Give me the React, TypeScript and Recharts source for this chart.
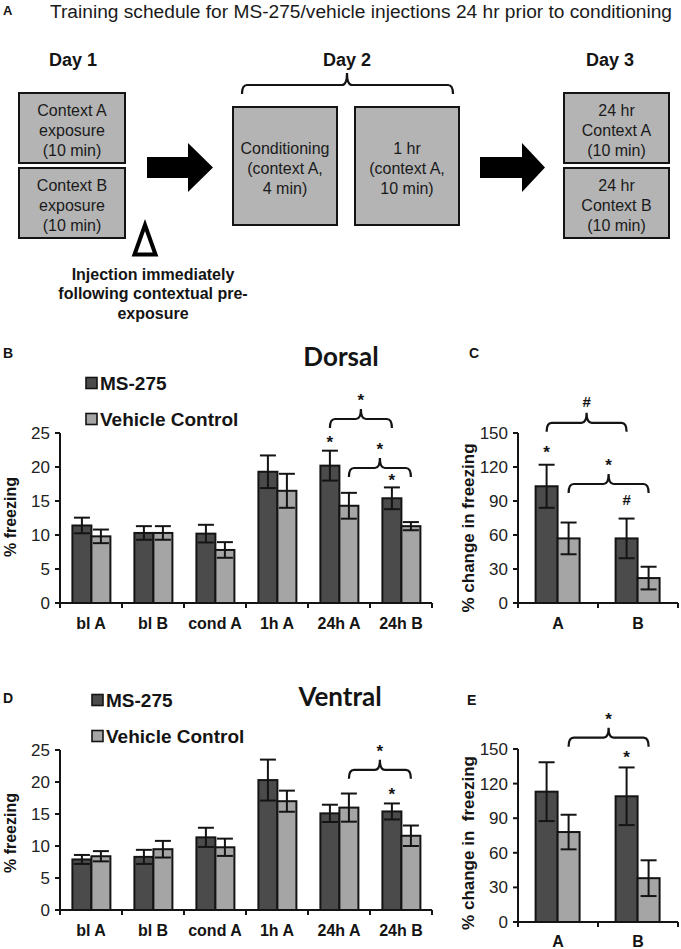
import React from 'react';
import { BarChart, Bar, XAxis, YAxis, ErrorBar } from 'recharts';

// --- data ---
const categories = ['bl A', 'bl B', 'cond A', '1h A', '24h A', '24h B'];
const contexts = ['A', 'B'];

// B: Dorsal, % freezing
const dorsalMs = [11.4, 10.3, 10.2, 19.3, 20.2, 15.4];
const dorsalMsErr = [1.15, 1.0, 1.3, 2.4, 2.2, 1.6];
const dorsalVeh = [9.8, 10.3, 7.8, 16.5, 14.3, 11.3];
const dorsalVehErr = [1.0, 1.0, 1.15, 2.5, 1.9, 0.6];

// C: Dorsal, % change in freezing
const dorsalChangeMs = [103, 57];
const dorsalChangeMsErr = [19, 17.5];
const dorsalChangeVeh = [57, 22];
const dorsalChangeVehErr = [14, 10];

// D: Ventral, % freezing
const ventralMs = [7.9, 8.3, 11.35, 20.3, 15.1, 15.4];
const ventralMsErr = [0.7, 1.1, 1.5, 3.2, 1.35, 1.25];
const ventralVeh = [8.4, 9.5, 9.8, 17.0, 16.0, 11.6];
const ventralVehErr = [0.8, 1.3, 1.35, 1.65, 2.2, 1.6];

// E: Ventral, % change in freezing
const ventralChangeMs = [113, 109];
const ventralChangeMsErr = [25.5, 25];
const ventralChangeVeh = [78, 38];
const ventralChangeVehErr = [15, 15.5];

const freezingTicks = [0, 5, 10, 15, 20, 25];
const changeTicks = [0, 30, 60, 90, 120, 150];

type Series = 'ms' | 'veh';
interface Mark { series: Series; index: number; at: number; text: string }
interface Brace { series: Series; from: number; to: number; at: number; text: string }

const dorsalMarks: Mark[] = [
  { series: 'ms', index: 4, at: 24.0, text: '*' },
  { series: 'ms', index: 5, at: 18.4, text: '*' },
];
const dorsalBraces: Brace[] = [
  { series: 'ms', from: 4, to: 5, at: 27.06, text: '*' },
  { series: 'veh', from: 4, to: 5, at: 19.85, text: '*' },
];
const dorsalChangeMarks: Mark[] = [
  { series: 'ms', index: 0, at: 135, text: '*' },
  { series: 'ms', index: 1, at: 91, text: '#' },
];
const dorsalChangeBraces: Brace[] = [
  { series: 'ms', from: 0, to: 1, at: 159, text: '#' },
  { series: 'veh', from: 0, to: 1, at: 105, text: '*' },
];
const ventralMarks: Mark[] = [{ series: 'ms', index: 5, at: 18.5, text: '*' }];
const ventralBraces: Brace[] = [{ series: 'veh', from: 4, to: 5, at: 21.9, text: '*' }];
const ventralChangeMarks: Mark[] = [{ series: 'ms', index: 1, at: 144.8, text: '*' }];
const ventralChangeBraces: Brace[] = [{ series: 'veh', from: 0, to: 1, at: 159.8, text: '*' }];

const DARK = '#4b4b4b';
const LIGHT = '#a5a5a5';
const BOX = '#b4b4b4';
const INK = '#141414';
const FONT = '"Liberation Sans", Arial, Helvetica, sans-serif';

function rowsOf(names: string[], ms: number[], msErr: number[], veh: number[], vehErr: number[]) {
  return names.map((name, i) => ({ name, ms: ms[i], msErr: msErr[i], veh: veh[i], vehErr: vehErr[i] }));
}

function glyph(text: string, cx: number, cy: number, key: string) {
  const hash = text === '#';
  return (
    <text key={key} x={cx} y={cy + (hash ? 5.5 : 8)} textAnchor="middle" fontFamily={FONT}
      fontWeight="bold" fontSize={hash ? 15 : 17} fill={INK}>
      {text}
    </text>
  );
}

function makeShape(series: Series, fill: string, names: string[], marks: Mark[], braces: Brace[], band: number) {
  return (props: any) => {
    const { x, y, width, height, payload } = props;
    const index = names.indexOf(payload.name);
    const v = payload[series];
    const ppu = height / v;
    const base = y + height;
    const cx = x + width / 2;
    const toY = (d: number) => base - d * ppu;
    return (
      <g>
        <rect x={x} y={y} width={width} height={height} fill={fill} stroke={INK} strokeWidth={2} />
        {marks
          .filter((m) => m.series === series && m.index === index)
          .map((m, i) => glyph(m.text, cx, toY(m.at), `m${i}`))}
        {braces
          .filter((b) => b.series === series && b.from === index)
          .map((b, i) => {
            const x1 = cx;
            const x2 = cx + (b.to - b.from) * band;
            const ly = toY(b.at);
            const mid = (x1 + x2) / 2;
            const d =
              `M${x1},${ly + 9} Q${x1},${ly} ${x1 + 5},${ly} L${mid - 5},${ly} ` +
              `Q${mid},${ly} ${mid},${ly - 10} Q${mid},${ly} ${mid + 5},${ly} ` +
              `L${x2 - 5},${ly} Q${x2},${ly} ${x2},${ly + 9}`;
            return (
              <g key={`b${i}`}>
                <path d={d} fill="none" stroke={INK} strokeWidth={2.2} />
                {glyph(b.text, mid, ly - 21, 't')}
              </g>
            );
          })}
      </g>
    );
  };
}

function makeTick(names: string[], band: number, dy: number) {
  return (props: any) => {
    const { x, y, payload } = props;
    const index = names.indexOf(payload.value);
    return (
      <g>
        <line x1={x - band / 2} x2={x - band / 2} y1={y} y2={y + 5} stroke={INK} strokeWidth={2} />
        {index === names.length - 1 && (
          <line x1={x + band / 2} x2={x + band / 2} y1={y} y2={y + 5} stroke={INK} strokeWidth={2} />
        )}
        <text x={x} y={y + dy} textAnchor="middle" fontFamily={FONT} fontWeight="bold" fontSize={16} fill={INK}>
          {payload.value}
        </text>
      </g>
    );
  };
}

interface PanelProps {
  left: number;
  top: number;
  width: number;
  height: number;
  margin: { top: number; right: number; bottom: number; left: number };
  yWidth: number;
  xHeight: number;
  names: string[];
  rows: any[];
  domain: [number, number];
  ticks: number[];
  marks: Mark[];
  braces: Brace[];
  gap: string;
  tickDy: number;
}

function Panel(p: PanelProps) {
  const plotW = p.width - p.margin.left - p.margin.right - p.yWidth;
  const band = plotW / p.names.length;
  return (
    <div style={{ position: 'absolute', left: p.left, top: p.top }}>
      <BarChart width={p.width} height={p.height} data={p.rows} margin={p.margin} barGap={0} barCategoryGap={p.gap}>
        <XAxis
          dataKey="name"
          height={p.xHeight}
          interval={0}
          tickLine={false}
          tickSize={0}
          tickMargin={0}
          axisLine={{ stroke: INK, strokeWidth: 2 }}
          tick={makeTick(p.names, band, p.tickDy)}
        />
        <YAxis
          width={p.yWidth}
          domain={p.domain}
          ticks={p.ticks}
          interval={0}
          tickSize={5}
          tickMargin={5}
          axisLine={{ stroke: INK, strokeWidth: 2 }}
          tickLine={{ stroke: INK, strokeWidth: 2 }}
          tick={{ fill: '#222', fontSize: 17, fontFamily: FONT }}
        />
        <Bar dataKey="ms" fill={DARK} isAnimationActive={false}
          shape={makeShape('ms', DARK, p.names, p.marks, p.braces, band)}>
          <ErrorBar dataKey="msErr" width={8} stroke={INK} strokeWidth={2} isAnimationActive={false} />
        </Bar>
        <Bar dataKey="veh" fill={LIGHT} isAnimationActive={false}
          shape={makeShape('veh', LIGHT, p.names, p.marks, p.braces, band)}>
          <ErrorBar dataKey="vehErr" width={8} stroke={INK} strokeWidth={2} isAnimationActive={false} />
        </Bar>
      </BarChart>
    </div>
  );
}

function BoxText({ x, y, w, h, lines, cy }: { x: number; y: number; w: number; h: number; lines: string[]; cy: number }) {
  return (
    <g>
      <rect x={x} y={y} width={w} height={h} fill={BOX} stroke={INK} strokeWidth={2} />
      {lines.map((t, i) => (
        <text key={i} x={x + w / 2} y={cy + i * 20 + 6} textAnchor="middle" fontFamily={FONT} fontSize={16} fill="#1a1a1a">
          {t}
        </text>
      ))}
    </g>
  );
}

function Legend({ x, y1, y2 }: { x: number; y1: number; y2: number }) {
  return (
    <g fontFamily={FONT} fontWeight="bold" fontSize={19} fill={INK}>
      <rect x={x} y={y1 - 5.5} width={11} height={11} fill={DARK} stroke={INK} strokeWidth={1.6} />
      <text x={x + 14} y={y1 + 7}>MS-275</text>
      <rect x={x} y={y2 - 5.5} width={11} height={11} fill={LIGHT} stroke={INK} strokeWidth={1.6} />
      <text x={x + 14} y={y2 + 7}>Vehicle Control</text>
    </g>
  );
}

function Overlay() {
  const bold = { fontFamily: FONT, fontWeight: 'bold' as const, fill: INK };
  return (
    <svg width={681} height={949} style={{ position: 'absolute', left: 0, top: 0 }}>
      {/* panel A: schedule */}
      <text x={3} y={15} {...bold} fontSize={13}>A</text>
      <text x={50} y={17.5} fontFamily={FONT} fontSize={18} fill="#1a1a1a" textLength={622} lengthAdjust="spacingAndGlyphs">
        Training schedule for MS-275/vehicle injections 24 hr prior to conditioning
      </text>
      <text x={73} y={65.5} {...bold} fontSize={18} textAnchor="middle">Day 1</text>
      <text x={347} y={65.5} {...bold} fontSize={18} textAnchor="middle">Day 2</text>
      <text x={610} y={65.5} {...bold} fontSize={18} textAnchor="middle">Day 3</text>

      <BoxText x={19} y={93} w={106} h={70} cy={110} lines={['Context A', 'exposure', '(10 min)']} />
      <BoxText x={19} y={168} w={106} h={70} cy={185} lines={['Context B', 'exposure', '(10 min)']} />
      <BoxText x={233} y={107} w={104} h={118} cy={148} lines={['Conditioning', '(context A,', '4 min)']} />
      <BoxText x={355} y={107} w={104} h={118} cy={148} lines={['1 hr', '(context A,', '10 min)']} />
      <BoxText x={564} y={93} w={105} h={70} cy={110} lines={['24 hr', 'Context A', '(10 min)']} />
      <BoxText x={564} y={168} w={105} h={70} cy={185} lines={['24 hr', 'Context B', '(10 min)']} />

      <path d="M242,94 Q242,85 247,85 L342,85 Q347,85 347,73 Q347,85 352,85 L448,85 Q453,85 453,94"
        fill="none" stroke={INK} strokeWidth={2.2} />

      <polygon points="147,157 188,157 188,143 213,167.5 188,192 188,178 147,178" fill="#000" />
      <polygon points="480,157 522,157 522,143 545,167.5 522,192 522,178 480,178" fill="#000" />

      <polygon points="145,225 134.5,254.5 155.5,254.5" fill="#fff" stroke="#000" strokeWidth={4} />
      <g {...bold} fontSize={16} textAnchor="middle">
        <text x={153} y={280}>Injection immediately</text>
        <text x={153} y={299}>following contextual pre-</text>
        <text x={153} y={319}>exposure</text>
      </g>

      {/* panel letters, titles, legends, axis titles */}
      <text x={3} y={358} {...bold} fontSize={14}>B</text>
      <text x={469} y={358} {...bold} fontSize={14}>C</text>
      <text x={3} y={703} {...bold} fontSize={14}>D</text>
      <text x={467} y={705} {...bold} fontSize={14}>E</text>

      <text x={341} y={366} fontFamily="Lato, 'Open Sans', sans-serif" fontWeight={700} fontSize={26} fill={INK} textAnchor="middle">Dorsal</text>
      <text x={340} y={706} fontFamily="Lato, 'Open Sans', sans-serif" fontWeight={700} fontSize={26} fill={INK} textAnchor="middle">Ventral</text>

      <Legend x={86} y1={383} y2={419} />
      <Legend x={92} y1={700} y2={736} />

      <g {...bold} fontSize={16} textAnchor="middle">
        <text transform="translate(16,517) rotate(-90)">% freezing</text>
        <text transform="translate(16,833) rotate(-90)">% freezing</text>
      </g>
      <g {...bold} fontSize={17} textAnchor="middle">
        <text transform="translate(474,528) rotate(-90)">% change in freezing</text>
        <text transform="translate(474,843) rotate(-90)">{'% change in \u00a0freezing'}</text>
      </g>
    </svg>
  );
}

export default function App() {
  const wide = { top: 63, right: 13, bottom: 0, left: 10 };
  const narrow = { top: 63, right: 3, bottom: 0, left: 6 };
  return (
    <div style={{ position: 'absolute', left: 0, top: 0, width: 681, height: 949, overflow: 'hidden', background: '#fff' }}>
      <Overlay />
      <Panel left={0} top={370} width={445} height={263} margin={wide} yWidth={50} xHeight={30}
        names={categories} rows={rowsOf(categories, dorsalMs, dorsalMsErr, dorsalVeh, dorsalVehErr)}
        domain={[0, 25]} ticks={freezingTicks} marks={dorsalMarks} braces={dorsalBraces} gap="20%" tickDy={26} />
      <Panel left={460} top={370} width={221} height={263} margin={narrow} yWidth={52} xHeight={30}
        names={contexts} rows={rowsOf(contexts, dorsalChangeMs, dorsalChangeMsErr, dorsalChangeVeh, dorsalChangeVehErr)}
        domain={[0, 150]} ticks={changeTicks} marks={dorsalChangeMarks} braces={dorsalChangeBraces} gap="22%" tickDy={26} />
      <Panel left={0} top={687} width={445} height={253} margin={wide} yWidth={50} xHeight={30}
        names={categories} rows={rowsOf(categories, ventralMs, ventralMsErr, ventralVeh, ventralVehErr)}
        domain={[0, 25]} ticks={freezingTicks} marks={ventralMarks} braces={ventralBraces} gap="20%" tickDy={26} />
      <Panel left={460} top={686} width={221} height={263} margin={narrow} yWidth={52} xHeight={27}
        names={contexts} rows={rowsOf(contexts, ventralChangeMs, ventralChangeMsErr, ventralChangeVeh, ventralChangeVehErr)}
        domain={[0, 150]} ticks={changeTicks} marks={ventralChangeMarks} braces={ventralChangeBraces} gap="22%" tickDy={24.5} />
    </div>
  );
}
